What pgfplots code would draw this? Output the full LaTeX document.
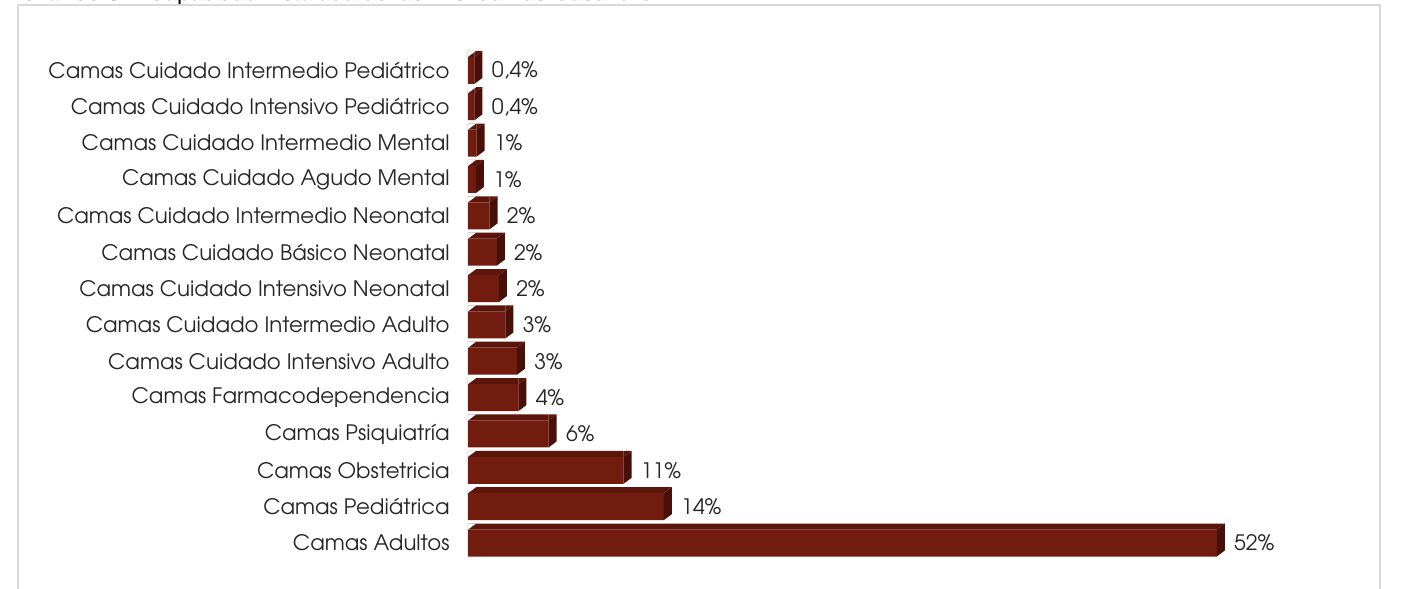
\documentclass[border=0pt]{standalone}
\usepackage{fontspec}
\setmainfont{TeX Gyre Adventor}
\newfontfamily\arialfont{Liberation Sans}
\usepackage{pgfplots}
\pgfplotsset{compat=1.18}
\usepackage{pgfplotstable}
\definecolor{barfront}{RGB}{114,27,15}
\definecolor{bartop}{RGB}{92,21,11}
\definecolor{barside}{RGB}{72,16,8}
\definecolor{framecol}{RGB}{217,217,217}
\definecolor{textcol}{RGB}{38,38,38}
\newcommand\labfont{\fontsize{10.65}{12.5}\selectfont}
% side face of a 3D bar, placed at the bar end
\pgfdeclareplotmark{side3d}{%
  \pgfpathmoveto{\pgfqpoint{0pt}{-6.75pt}}%
  \pgfpathlineto{\pgfqpoint{0pt}{6.75pt}}%
  \pgfpathlineto{\pgfqpoint{4pt}{9.75pt}}%
  \pgfpathlineto{\pgfqpoint{4pt}{-3.75pt}}%
  \pgfpathclose\pgfusepathqfill}
% triangle above the bar front top edge
\pgfdeclareplotmark{tri3d}{%
  \pgfpathmoveto{\pgfqpoint{0pt}{6.75pt}}%
  \pgfpathlineto{\pgfqpoint{0pt}{9.75pt}}%
  \pgfpathlineto{\pgfqpoint{4pt}{9.75pt}}%
  \pgfpathclose\pgfusepathqfill}
\pgfplotstableread{
y v lab
0 52 52\%
1 13.6 14\%
2 10.8 11\%
3 5.6 6\%
4 3.5 4\%
5 3.4 3\%
6 2.6 3\%
7 2.15 2\%
8 2.0 2\%
9 1.5 2\%
10 0.55 1\%
11 0.6 1\%
12 0.45 0,4\%
13 0.45 0,4\%
}\datatable
\begin{document}
\begin{tikzpicture}[x=1pt,y=1pt]
\begin{axis}[
  at={(234pt,13.9pt)}, anchor=south west,
  scale only axis, width=432pt, height=254.5pt,
  xmin=0, xmax=60, ymin=-0.5, ymax=13.5,
  axis line style={draw=none},
  xtick=\empty,
  ytick={0,...,13},
  yticklabels={Camas Adultos, Camas Pediátrica, Camas Obstetricia, Camas Psiquiatría, Camas Farmacodependencia, Camas Cuidado Intensivo Adulto, Camas Cuidado Intermedio Adulto, Camas Cuidado Intensivo Neonatal, Camas Cuidado Básico Neonatal, Camas Cuidado Intermedio Neonatal, Camas Cuidado Agudo Mental, Camas Cuidado Intermedio Mental, Camas Cuidado Intensivo Pediátrico, Camas Cuidado Intermedio Pediátrico},
  major tick length=0pt,
  yticklabel style={font=\labfont, inner sep=0pt, anchor=east, xshift=-9pt, text=textcol},
  clip=false,
]
% top face strip
\addplot[xbar, bar width=3pt, bar shift=8.25pt, fill=bartop, draw=none, forget plot]
  table[x=v, y=y]{\datatable};
% side face
\addplot[only marks, mark=side3d, color=barside, fill=barside, forget plot]
  table[x=v, y=y]{\datatable};
% top-right corner of top face
\addplot[only marks, mark=tri3d, color=bartop, fill=bartop, forget plot]
  table[x=v, y=y]{\datatable};
% left bevel of top face
\addplot[only marks, mark=tri3d, color=white, fill=white, forget plot]
  table[x expr=0, y=y]{\datatable};
% front face with labels
\addplot[xbar, bar width=13.5pt, bar shift=0pt, fill=barfront, draw=none,
  point meta=explicit symbolic,
  nodes near coords,
  nodes near coords style={anchor=west, inner sep=0pt, xshift=8.5pt, font=\labfont, text=textcol}]
  table[x=v, y=y, meta=lab]{\datatable};
\end{axis}
\node[anchor=base west, inner sep=0pt, font=\arialfont\fontsize{11.5}{13}\selectfont, text=black] at (10pt,294pt) {\textbf{Gráfico 34.} Capacidad instalada de las IPS Camas Casanare};
\draw[framecol, line width=1pt] (9pt,-10pt) -- (9pt,292pt) -- (690pt,292pt) -- (690pt,-10pt);
\pgfresetboundingbox
\path[use as bounding box] (0pt,0pt) rectangle (702.5pt,294.5pt);
\end{tikzpicture}
\end{document}
